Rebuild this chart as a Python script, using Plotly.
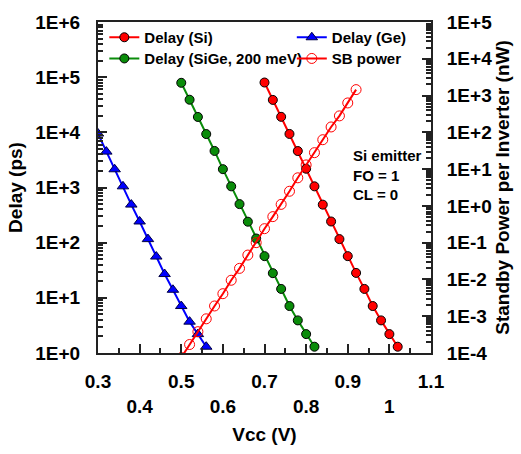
import plotly.graph_objects as go

# Supply voltage sweeps (V)
vcc_ge = [0.30, 0.32, 0.34, 0.36, 0.38, 0.40, 0.42, 0.44, 0.46, 0.48, 0.50, 0.52, 0.54, 0.56]
vcc_sige = [0.50, 0.52, 0.54, 0.56, 0.58, 0.60, 0.62, 0.64, 0.66, 0.68, 0.70, 0.72, 0.74, 0.76, 0.78, 0.80, 0.82]
vcc_si = [0.70, 0.72, 0.74, 0.76, 0.78, 0.80, 0.82, 0.84, 0.86, 0.88, 0.90, 0.92, 0.94, 0.96, 0.98, 1.00, 1.02]
vcc_sb = [0.50, 0.52, 0.54, 0.56, 0.58, 0.60, 0.62, 0.64, 0.66, 0.68, 0.70, 0.72, 0.74, 0.76, 0.78, 0.80,
          0.82, 0.84, 0.86, 0.88, 0.90, 0.92]

# Inverter delay (ps)
delay_ge = [9500, 4470, 2140, 1050, 490, 242, 116, 56, 27, 14, 7.1, 3.7, 2.2, 1.3]
delay_sige = [79000, 39000, 19000, 9300, 4600, 2150, 1050, 500, 240, 119, 57, 28, 14.5, 7.1, 3.9, 2.2, 1.3]
delay_si = [80000, 38700, 19100, 9350, 4580, 2190, 1050, 489, 242, 116, 57, 28.3, 14.5, 7.1, 3.9, 2.2, 1.3]

# Standby power per inverter (nW)
sb_power = [7.5e-5, 1.7e-4, 3.8e-4, 8.5e-4, 1.9e-3, 4.1e-3, 9.5e-3, 2.0e-2, 4.6e-2, 0.1, 0.24, 0.51,
            1.1, 2.5, 5.8, 13, 28, 63, 140, 280, 630, 1450]

# Axis ticks
x_ticks = [0.3, 0.4, 0.5, 0.6, 0.7, 0.8, 0.9, 1.0, 1.1]
x_ticktext = ["0.3", "<br>0.4", "0.5", "<br>0.6", "0.7", "<br>0.8", "0.9", "<br>1", "1.1"]
delay_ticks = [1, 10, 100, 1e3, 1e4, 1e5, 1e6]
delay_ticktext = ["1E+0", "1E+1", "1E+2", "1E+3", "1E+4", "1E+5", "1E+6"]
power_ticks = [1e-4, 1e-3, 1e-2, 1e-1, 1, 10, 100, 1e3, 1e4, 1e5]
power_ticktext = ["1E-4", "1E-3", "1E-2", "1E-1", "1E+0", "1E+1", "1E+2", "1E+3", "1E+4", "1E+5"]

RED = "#ff0000"
GREEN = "#0a8c0a"
BLUE = "#0000ff"
FONT = "Liberation Sans, Arial, sans-serif"
AXIS_COLOR = "#222222"

fig = go.Figure()

fig.add_trace(go.Scatter(
    x=vcc_si, y=delay_si, name="Delay (Si)", mode="lines+markers", legend="legend",
    line=dict(color=RED, width=2),
    marker=dict(symbol="circle", size=9, color=RED, line=dict(color="black", width=1)),
))
fig.add_trace(go.Scatter(
    x=vcc_ge, y=delay_ge, name="Delay (Ge)", mode="lines+markers", legend="legend2",
    line=dict(color=BLUE, width=2),
    marker=dict(symbol="triangle-up", size=10, color=BLUE, line=dict(color="#000044", width=1)),
))
fig.add_trace(go.Scatter(
    x=vcc_sige, y=delay_sige, name="Delay (SiGe, 200 meV)", mode="lines+markers", legend="legend3",
    line=dict(color=GREEN, width=2),
    marker=dict(symbol="circle", size=9, color=GREEN, line=dict(color="black", width=1)),
))
fig.add_trace(go.Scatter(
    x=vcc_sb, y=sb_power, name="SB power", mode="lines+markers", legend="legend4", yaxis="y2",
    line=dict(color=RED, width=2),
    marker=dict(symbol="circle-open", size=10, color=RED, line=dict(color=RED, width=1)),
))

axis_common = dict(
    showline=True, linecolor=AXIS_COLOR, linewidth=2,
    ticks="inside", ticklen=9, tickwidth=1.5, tickcolor=AXIS_COLOR,
    showgrid=False, zeroline=False,
    tickfont=dict(family=FONT, size=19, color="black", weight="bold"),
)
title_font = dict(family=FONT, size=19, color="black", weight="bold")
minor_log = dict(ticks="inside", ticklen=5, dtick="D1", tickcolor=AXIS_COLOR, showgrid=False)


def legend_box(x, y):
    # one legend entry box in the upper-left key (two columns x two rows)
    return dict(
        x=x, y=y, xanchor="left", yanchor="top",
        bgcolor="rgba(0,0,0,0)", borderwidth=0,
        font=dict(family=FONT, size=15, color="black", weight="bold"),
    )


fig.update_layout(
    width=521, height=454,
    margin=dict(l=98, r=88, t=14, b=97),
    paper_bgcolor="white", plot_bgcolor="white",
    font=dict(family=FONT, color="black"),
    xaxis=dict(
        **axis_common,
        range=[0.3, 1.1], mirror=True,
        tickmode="array", tickvals=x_ticks, ticktext=x_ticktext,
        ticklabelstandoff=10,
        minor=dict(ticks="inside", ticklen=5, dtick=0.05, tick0=0.3, tickcolor=AXIS_COLOR, showgrid=False),
        title=dict(text="Vcc (V)", font=title_font, standoff=12),
    ),
    yaxis=dict(
        **axis_common,
        type="log", range=[0, 6],
        tickmode="array", tickvals=delay_ticks, ticktext=delay_ticktext,
        ticklabelstandoff=12,
        minor=minor_log,
        title=dict(text="Delay (ps)", font=title_font, standoff=8),
    ),
    yaxis2=dict(
        **axis_common,
        type="log", range=[-4, 5], overlaying="y", side="right", anchor="x",
        tickmode="array", tickvals=power_ticks, ticktext=power_ticktext,
        ticklabelstandoff=10,
        minor=minor_log,
        title=dict(text="Standby Power per Inverter (nW)", font=title_font, standoff=4),
    ),
    legend=legend_box(0.019, 1.003),
    legend2=legend_box(0.582, 1.003),
    legend3=legend_box(0.019, 0.939),
    legend4=legend_box(0.582, 0.939),
    showlegend=True,
)

fig.add_annotation(
    text="Si emitter<br>FO = 1<br>CL = 0",
    xref="paper", yref="paper", x=0.761, y=0.627, xanchor="left", yanchor="top",
    align="left", showarrow=False,
    font=dict(family=FONT, size=15, color="black", weight="bold"),
)

fig.write_html("out.html")
